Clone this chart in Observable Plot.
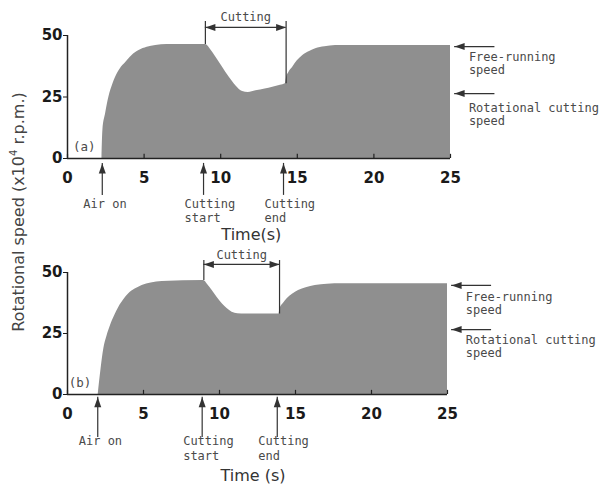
<!DOCTYPE html>
<html><head><meta charset="utf-8">
<script src="https://cdn.jsdelivr.net/npm/d3@7"></script>
<script src="https://cdn.jsdelivr.net/npm/@observablehq/plot@0.6"></script>
<style>
html,body{margin:0;padding:0;background:#fff;}
#wrap{position:relative;width:599px;height:484px;overflow:hidden;background:#fff;}
.panel{position:absolute;left:0;}
#ylab{position:absolute;left:18px;top:212px;transform:translate(-50%,-50%) rotate(-90deg);white-space:nowrap;font-family:"DejaVu Sans";font-size:16px;color:#444;}
#ylab sup{font-size:10px;vertical-align:7px;line-height:0;}
</style></head>
<body>
<div id="wrap">
  <div id="pa" class="panel" style="top:0"></div>
  <div id="pb" class="panel" style="top:240px"></div>
  <div id="ylab">Rotational speed (x10<sup>4</sup> r.p.m.)</div>
</div>
<script>
// ---- data (time in s, speed in x10^4 r.p.m.) ----
const timeA  = [2.25,2.31,2.49,2.7,2.97,3.14,3.45,3.8,4.2,4.67,5.2,5.76,6.5,9.03,9.3,9.69,10.1,10.56,11.0,11.43,11.8,12.3,12.9,13.4,13.9,14.22,14.3,14.45,14.7,15.0,15.36,15.8,16.2,16.8,17.5,25];
const speedA = [0,11.4,18.3,24.9,30.4,33,36.5,39,41.8,43.9,45.2,45.9,46.3,46.3,44.6,41.2,37.3,33,29.5,27.2,26.8,27.5,28.3,29,29.8,30.4,33,35,37.1,39.7,41.9,43.5,44.6,45.4,45.9,45.9];
const timeB  = [2.02,2.2,2.39,2.6,2.83,3.1,3.38,3.7,4.03,4.45,4.91,5.5,6.23,8.97,9.2,9.52,9.85,10.18,10.5,10.83,11.2,11.7,13.92,13.97,14.2,14.45,14.8,15.2,15.7,16.3,17.1,18.07,25];
const speedB = [0,10,18.7,24,28.3,32.3,35.8,38.8,41.3,43.2,44.7,45.7,46.3,46.7,45.2,42.6,39.8,37.2,35.2,33.7,33.1,33,33,34.9,37.3,39.2,41.1,42.6,43.8,44.7,45.2,45.4,45.4];

const xTicks = [0,5,10,15,20,25];
const yTicks = [0,25,50];
const panelLabels = ["(a)","(b)"];
const eventLabels = ["Air on","Cutting\nstart","Cutting\nend"];
const eventTimesA = [2.27,8.88,14.1];
const eventTimesB = [1.99,8.86,13.8];
const cutLabel = "Cutting";
const cutTimesA = [9.0,14.27];
const cutSpeedsA = [46.3,30.4];
const cutTimesB = [8.97,13.95];
const cutSpeedsB = [46.7,33];
const levelLabels = ["Free-running\nspeed","Rotational cutting\nspeed"];
const levelsA = [45.5,26.4];
const levelsB = [44.7,26.6];
const timeLabels = ["Time(s)","Time (s)"];

// ---- arrowhead symbols (tip at origin) ----
const headUp    = {draw(c){c.moveTo(0,0);c.lineTo(-3.5,10);c.lineTo(3.5,10);c.closePath();}};
const headLeft  = {draw(c){c.moveTo(0,0);c.lineTo(10,-3.5);c.lineTo(10,3.5);c.closePath();}};
const headRight = {draw(c){c.moveTo(0,0);c.lineTo(-10,-3.5);c.lineTo(-10,3.5);c.closePath();}};

const INK = "#222", TXT = "#4a4a4a", MONO = "DejaVu Sans Mono";

function panel(cfg){
  const series = cfg.t.map((t,i)=>({t, v: cfg.v[i]}));
  const ev = eventLabels.map((label,i)=>({label, t: cfg.events[i]}));
  // label text sits a few pixels below its arrow (pixel offset converted to data units)
  const lv = levelLabels.map((label,i)=>({label, v: cfg.levels[i], vt: cfg.levels[i] - cfg.levelTextOff[i] / cfg.pxPerUnit}));
  const [c0,c1] = cfg.cutT;
  return Plot.plot({
    width: 599, height: cfg.height,
    marginLeft: 67, marginRight: cfg.mr, marginTop: cfg.mt, marginBottom: cfg.mb,
    x: {domain:[0,25]}, y: {domain:[0,50]},
    style: {fontFamily:"DejaVu Sans", background:"transparent", overflow:"visible"},
    marks: [
      Plot.areaY(series, {x:"t", y:"v", fill:"#8f8f8f", curve:"monotone-x"}),
      Plot.ruleX([0], {y1:0, y2:50, stroke:INK, strokeWidth:1.5}),
      Plot.ruleY([0], {x1:0, x2:25, stroke:INK, strokeWidth:1.5}),
      Plot.ruleX(xTicks, {x:d=>d, y1:0, y2:1.7, stroke:INK, strokeWidth:1.2}),
      Plot.axisX({ticks:xTicks, tickSize:0, tickPadding:14, fontSize:15, fontWeight:"bold", color:"#1a1a1a", label:null}),
      Plot.axisY({ticks:yTicks, tickSize:4, tickPadding:1, fontSize:15, fontWeight:"bold", color:"#1a1a1a", label:null}),
      // cutting bracket
      Plot.ruleX([0,1], {x:i=>cfg.cutT[i], y1:i=>cfg.cutV[i], y2:cfg.bracketTop, stroke:"#333", strokeWidth:1.2}),
      Plot.ruleY([cfg.bracketY], {x1:c0, x2:c1, stroke:"#333", strokeWidth:1.2}),
      Plot.dot([0], {x:c0, y:cfg.bracketY, symbol:headLeft, fill:"#333", stroke:"none"}),
      Plot.dot([0], {x:c1, y:cfg.bracketY, symbol:headRight, fill:"#333", stroke:"none"}),
      Plot.text([cutLabel], {x:(c0+c1)/2, y:cfg.bracketText, fontFamily:MONO, fontSize:12, fill:TXT}),
      // event arrows below axis
      Plot.ruleX(ev, {x:"t", y1:cfg.evBottom, y2:cfg.evTip, stroke:"#333", strokeWidth:1.2}),
      Plot.dot(ev, {x:"t", y:cfg.evTip, symbol:headUp, fill:"#333", stroke:"none"}),
      Plot.text(ev, {x:"t", y:cfg.evText, text:"label", textAnchor:"start", lineAnchor:"top", dx:-19, lineHeight:1.2, fontFamily:MONO, fontSize:12, fill:TXT}),
      // level arrows on right
      Plot.ruleY(lv, {y:"v", x1:25.27, x2:27.9, stroke:"#333", strokeWidth:1.2}),
      Plot.dot(lv, {x:25.27, y:"v", symbol:headLeft, fill:"#333", stroke:"none"}),
      Plot.text(lv, {x:26.2, y:"vt", text:"label", textAnchor:"start", lineAnchor:"top", lineHeight:1.1, fontFamily:MONO, fontSize:12, fill:TXT}),
      // panel label
      Plot.text([cfg.label], {x:cfg.labelX, y:4.6, fontFamily:MONO, fontSize:12.5, fill:TXT}),
      // time label
      Plot.text([cfg.timeLabel], {x:cfg.timeX, frameAnchor:"bottom", dy:cfg.timeDy, fontSize:16, fill:"#333"})
    ]
  });
}

const a = panel({t:timeA, v:speedA, events:eventTimesA, levels:levelsA, levelTextOff:[5,9], pxPerUnit:2.46,
  cutT:cutTimesA, cutV:cutSpeedsA, height:240, mt:35, mb:82, mr:149,
  bracketTop:55.7, bracketY:53.3, bracketText:57.6, evTip:-2, evBottom:-15, evText:-15.9,
  label:panelLabels[0], labelX:1.1, timeX:12, timeDy:81, timeLabel:timeLabels[0]});
const b = panel({t:timeB, v:speedB, events:eventTimesB, levels:levelsB, levelTextOff:[6,5], pxPerUnit:2.44,
  cutT:cutTimesB, cutV:cutSpeedsB, height:244, mt:32, mb:90, mr:152,
  bracketTop:54.9, bracketY:53.3, bracketText:57.2, evTip:-1.1, evBottom:-17.6, evText:-16.6,
  label:panelLabels[1], labelX:0.82, timeX:12.2, timeDy:86, timeLabel:timeLabels[1]});
document.getElementById("pa").appendChild(a);
document.getElementById("pb").appendChild(b);
</script>
</body></html>
